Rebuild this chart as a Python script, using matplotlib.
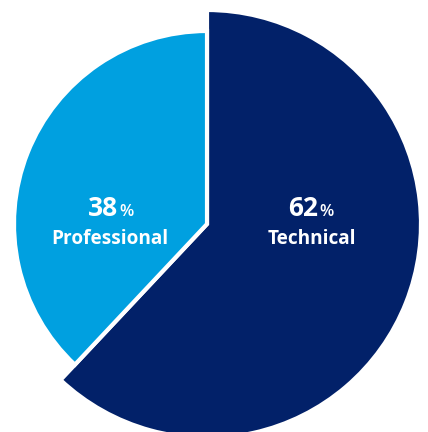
import matplotlib
matplotlib.use("Agg")
import matplotlib.pyplot as plt

# Share of roles
categories = ["Technical", "Professional"]
shares = [62, 38]
colors = ["#022169", "#00A0E0"]

W, H = 428, 432
fig = plt.figure(figsize=(W / 100, H / 100), dpi=100)
ax = fig.add_axes([0, 0, 1, 1])

cx, cy = 207, H - 224
wedges, _ = ax.pie(shares, colors=colors, startangle=90, counterclock=False,
                   center=(cx, cy), radius=192, frame=True,
                   wedgeprops=dict(edgecolor="white", linewidth=3))
ax.set_xlim(0, W)
ax.set_ylim(0, H)
ax.set_aspect("equal")
ax.axis("off")
# the Technical slice is drawn larger than the Professional one
wedges[0].set_radius(214)
wedges[1].set_radius(193)

font = "Open Sans"
label_pos = {"Technical": (318, 312), "Professional": (118, 110)}
for cat, val in zip(categories, shares):
    xnum, xlab = label_pos[cat]
    y = H - 216
    ax.text(xnum, y, f"{val}", ha="right", va="baseline", color="white",
            fontsize=19, fontweight="bold", family=font)
    ax.text(xnum + 1.5, y, "%", ha="left", va="baseline", color="white",
            fontsize=12, fontweight="semibold", family=font)
    ax.text(xlab, H - 244, cat, ha="center", va="baseline", color="white",
            fontsize=13.7, fontweight="bold", family=font)

fig.savefig("out.png", dpi=100)
